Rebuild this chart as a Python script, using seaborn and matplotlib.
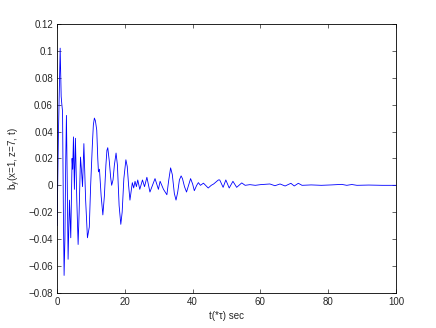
import matplotlib
matplotlib.use("Agg")
import matplotlib.pyplot as plt
import numpy as np
import pandas as pd
import seaborn as sns

# signal (time, value)
t_vals = [0.0, 0.4, 0.9, 1.2, 1.4, 1.6, 1.85, 2.06, 2.3, 2.55, 2.75, 3.0,
          3.24, 3.64, 4.03, 4.42, 4.6, 4.82, 5.1, 5.4, 5.8, 6.2, 6.5, 6.9,
          7.2, 7.5, 7.9, 8.4, 8.95, 9.5, 9.9, 10.4, 10.7, 11.0, 11.3, 11.7,
          12.0, 12.2, 12.5, 13.0, 13.5, 13.95, 14.4, 14.7, 14.95, 15.4, 15.8,
          16.1, 16.5, 16.9, 17.4, 17.8, 18.3, 18.8, 19.2, 19.7, 20.3, 20.7,
          21.1, 21.5, 22.2, 22.6, 23.0, 23.4, 23.8, 24.4, 25.2, 25.8, 26.5,
          27.4, 28.9, 29.9, 30.4, 31.4, 32.4, 32.9, 33.5, 34.0, 34.6, 35.1,
          35.6, 36.1, 36.6, 37.0, 37.6, 38.2, 38.8, 39.4, 40.0, 40.5, 41.2,
          41.7, 42.3, 43.2, 44.6, 45.5, 46.2, 47.6, 48.0, 49.0, 49.8, 50.8,
          51.9, 53.0, 54.5, 55.5, 56.9, 58.5, 60.0, 62.8, 64.3, 65.8, 67.3,
          69.0, 70.0, 71.2, 72.3, 75.0, 78.0, 81.0, 84.0, 85.5, 87.0, 88.5,
          92.0, 96.0, 100.0]
b_vals = [-0.030, 0.040, 0.102, 0.066, 0.060, 0.055, -0.020, -0.067, -0.040,
          0.020, 0.052, 0.000, -0.055, -0.011, -0.039, 0.020, 0.012, 0.036,
          -0.003, 0.035, -0.010, -0.044, -0.020, 0.021, 0.011, -0.001, 0.031,
          -0.010, -0.039, -0.031, 0.000, 0.030, 0.045, 0.050, 0.048, 0.041,
          0.020, 0.010, 0.012, -0.008, -0.022, -0.008, 0.015, 0.026, 0.028,
          0.018, 0.006, 0.000, 0.004, 0.015, 0.024, 0.015, -0.015, -0.029,
          -0.020, 0.005, 0.019, 0.014, 0.000, -0.011, 0.002, -0.002, 0.003,
          -0.001, 0.004, -0.003, 0.004, -0.001, 0.006, -0.005, 0.005, -0.003,
          0.003, -0.003, -0.007, 0.003, 0.013, 0.008, -0.006, -0.011, -0.005,
          0.004, 0.007, 0.005, -0.001, -0.005, 0.000, 0.005, 0.001, -0.004,
          0.000, 0.002, 0.000, 0.0016, -0.002, 0.000, 0.001, 0.004, 0.004,
          -0.0015, 0.004, -0.002, 0.003, -0.0015, 0.0018, 0.000, 0.0005,
          0.000, 0.0005, 0.001, -0.0003, 0.001, -0.0005, 0.0015, -0.0005,
          0.0015, 0.000, 0.0003, 0.000, 0.0003, 0.0007, 0.000, 0.0006, 0.000,
          0.0002, 0.000, 0.000]

x_ticks = [0, 20, 40, 60, 80, 100]
y_ticks = [-0.08, -0.06, -0.04, -0.02, 0, 0.02, 0.04, 0.06, 0.08, 0.1, 0.12]
y_tick_labels = ["\u22120.08", "\u22120.06", "\u22120.04", "\u22120.02", "0",
                 "0.02", "0.04", "0.06", "0.08", "0.1", "0.12"]

df = pd.DataFrame({"t": t_vals, "b": b_vals})

sns.set_style("ticks")
plt.rcParams["font.family"] = ["Liberation Sans", "DejaVu Sans"]
plt.rcParams["mathtext.fontset"] = "custom"
plt.rcParams["mathtext.rm"] = "Liberation Sans"
plt.rcParams["mathtext.it"] = "Liberation Sans"

fig = plt.figure(figsize=(4.36, 3.28), dpi=100)
ax = fig.add_axes([0.131, 0.107, 0.777, 0.820])

sns.lineplot(data=df, x="t", y="b", color="#0000ff", linewidth=0.6,
             estimator=None, sort=False, ax=ax)

ax.set_xlim(0, 100)
ax.set_ylim(-0.08, 0.12)
ax.set_xticks(x_ticks)
ax.set_xticklabels([str(v) for v in x_ticks])
ax.set_yticks(y_ticks)
ax.set_yticklabels(y_tick_labels)
ax.tick_params(direction="in", length=3, width=0.5, labelsize=7,
               top=True, right=True, pad=3)
for sp in ax.spines.values():
    sp.set_visible(True)
    sp.set_linewidth(0.6)
    sp.set_color("black")

ax.set_xlabel("t(*\u03c4) sec", fontsize=7, labelpad=3)
ax.set_ylabel("b$_y$(x=1, z=7, t)", fontsize=7, labelpad=4)

fig.savefig("out.png", dpi=100, facecolor="white")
